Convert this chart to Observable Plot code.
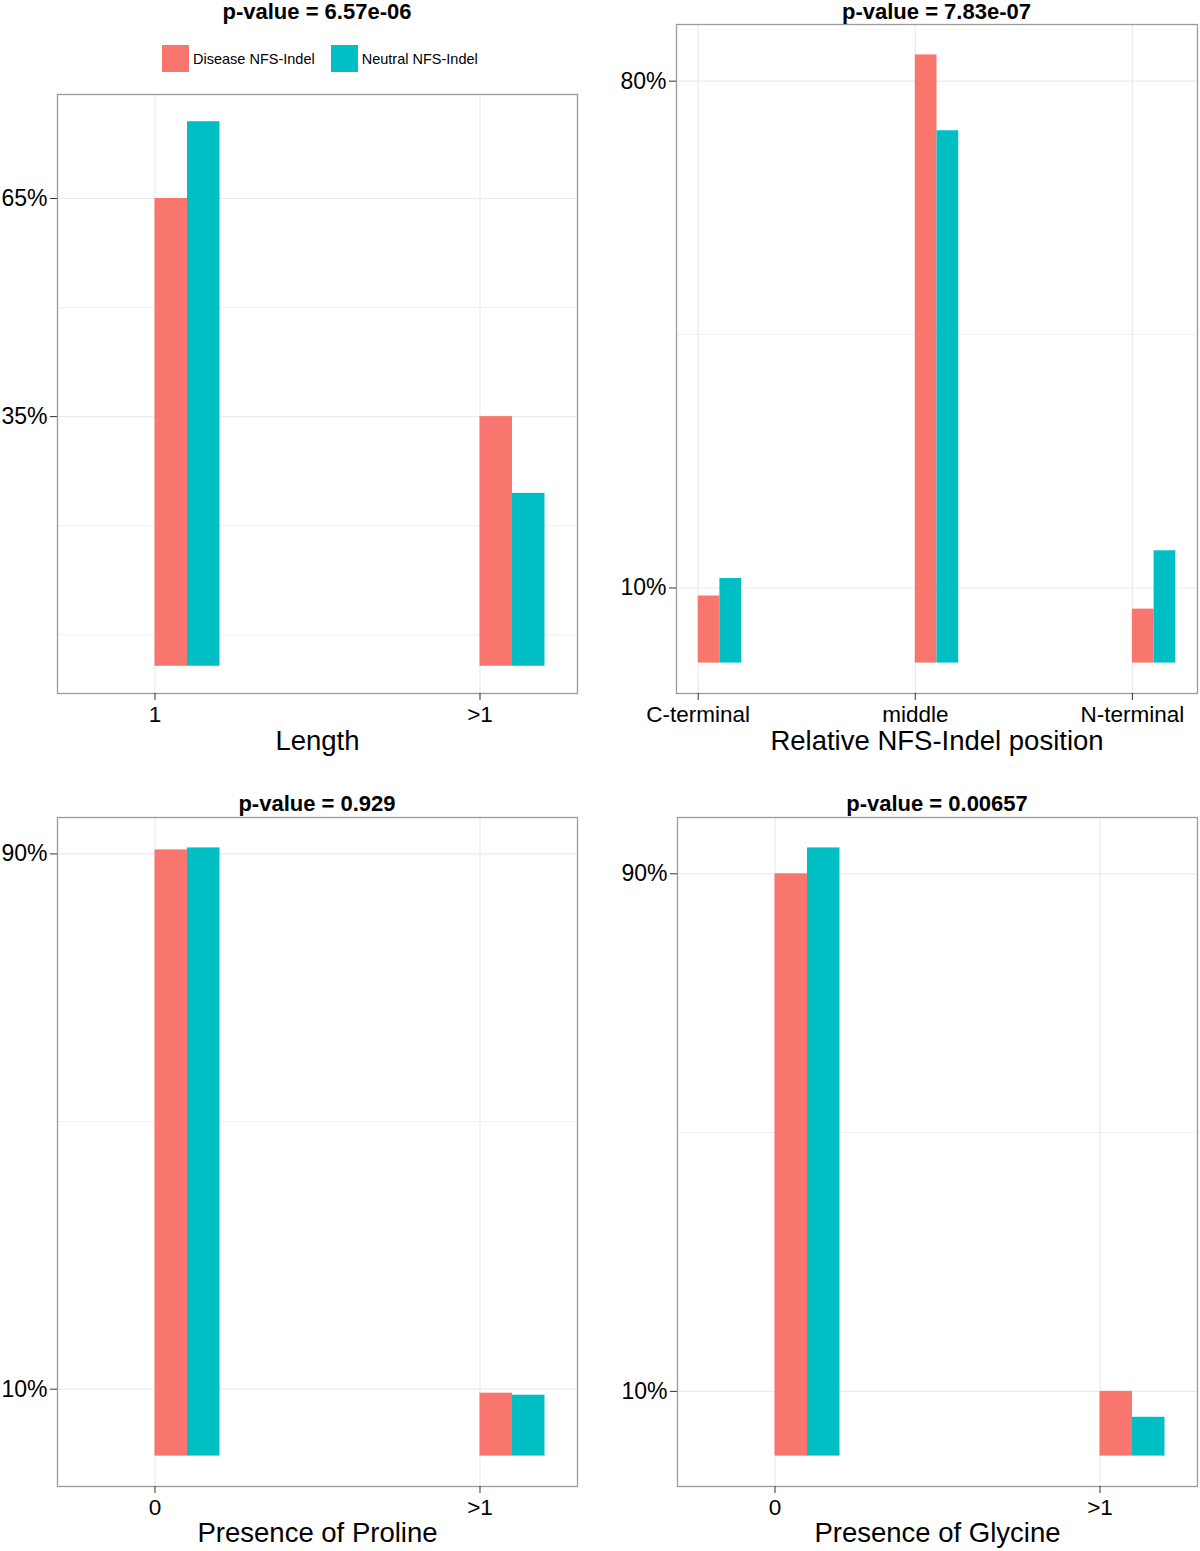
<!DOCTYPE html>
<html>
<head>
<meta charset="utf-8">
<script src="https://cdn.jsdelivr.net/npm/d3@7"></script>
<script src="https://cdn.jsdelivr.net/npm/@observablehq/plot@0.6"></script>
<style>
  body { margin: 0; background: #fff; }
  #root { position: relative; width: 1200px; height: 1551px; overflow: hidden;
          font-family: "Liberation Sans", Arial, Helvetica, sans-serif; color: #000; }
  .panel { position: absolute; }
  .ptitle { position: absolute; font-weight: bold; font-size: 22px; white-space: nowrap;
            transform: translate(-50%, -50%); }
  .legend { position: absolute; display: flex; align-items: center; font-size: 14.5px; white-space: nowrap; }
  .legend .sw { width: 27px; height: 27px; margin-right: 4px; }
  .legend .item { display: flex; align-items: center; margin-right: 16px; }
</style>
</head>
<body>
<div id="root"></div>
<script>
// ---------- data ----------
const seriesNames = ["Disease NFS-Indel", "Neutral NFS-Indel"];
const seriesColors = ["#F8766D", "#00BFC4"];

const lengthCategories = ["1", ">1"];
const lengthDisease = [65.2, 34.8];
const lengthNeutral = [75.9, 24.1];
const lengthTicks = [34.8, 65.2];
const lengthTickLabels = ["35%", "65%"];
const lengthPValue = "p-value = 6.57e-06";
const lengthAxisTitle = "Length";

const positionCategories = ["C-terminal", "middle", "N-terminal"];
const positionDisease = [9.2, 83.4, 7.4];
const positionNeutral = [11.6, 73.0, 15.4];
const positionTicks = [10.3, 79.8];
const positionTickLabels = ["10%", "80%"];
const positionPValue = "p-value = 7.83e-07";
const positionAxisTitle = "Relative NFS-Indel position";

const prolineCategories = ["0", ">1"];
const prolineDisease = [90.6, 9.4];
const prolineNeutral = [90.9, 9.1];
const prolineTicks = [10, 90];
const prolineTickLabels = ["10%", "90%"];
const prolinePValue = "p-value = 0.929";
const prolineAxisTitle = "Presence of Proline";

const glycineCategories = ["0", ">1"];
const glycineDisease = [90.0, 10.0];
const glycineNeutral = [94.0, 6.0];
const glycineTicks = [10, 90];
const glycineTickLabels = ["10%", "90%"];
const glycinePValue = "p-value = 0.00657";
const glycineAxisTitle = "Presence of Glycine";

// ---------- helpers ----------
function minorBreaks(ticks, lim) {
  let b = [...ticks].sort((a, c) => a - c);
  const bd = b[1] - b[0];
  if (lim[0] < b[0]) b = [b[0] - bd, ...b];
  if (lim[1] > b[b.length - 1]) b = [...b, b[b.length - 1] + bd];
  const out = [];
  for (let k = 0; k < b.length - 1; k++) { out.push(b[k]); out.push((b[k] + b[k + 1]) / 2); }
  out.push(b[b.length - 1]);
  return out.filter(v => v >= lim[0] && v <= lim[1] && !ticks.includes(v));
}

const root = document.getElementById("root");

function panel(cfg) {
  const { cats, disease, neutral, ticks, tickLabels, pvalue, axisTitle,
          left, top, width, height, mL, mR, mT, mB, leftPad } = cfg;
  const rows = cats.flatMap((c, i) => [
    { i, s: 0, series: seriesNames[0], value: disease[i] },
    { i, s: 1, series: seriesNames[1], value: neutral[i] }
  ]);
  const maxV = d3.max(rows, d => d.value);
  const yDomain = [-0.05 * maxV, 1.05 * maxV];
  const labelMap = new Map(ticks.map((t, k) => [t, tickLabels[k]]));
  const idx = cats.map((c, i) => i);
  const chart = Plot.plot({
    width, height,
    marginLeft: mL, marginRight: mR, marginTop: mT, marginBottom: mB,
    style: { fontFamily: '"Liberation Sans", Arial, Helvetica, sans-serif', color: "#000", background: "transparent", overflow: "visible" },
    x: { type: "linear", domain: [-leftPad, cats.length - 1 + 0.3], axis: null },
    y: { type: "linear", domain: yDomain, axis: null },
    color: { domain: seriesNames, range: seriesColors },
    marks: [
      Plot.gridY(minorBreaks(ticks, yDomain), { stroke: "#ebebeb", strokeOpacity: 1, strokeWidth: 0.7 }),
      Plot.gridY(ticks, { stroke: "#ebebeb", strokeOpacity: 1, strokeWidth: 1.2 }),
      Plot.gridX(idx, { stroke: "#ebebeb", strokeOpacity: 1, strokeWidth: 1.2 }),
      Plot.rectY(rows, {
        x1: d => d.i + d.s * 0.1,
        x2: d => d.i + (d.s + 1) * 0.1,
        y1: 0, y2: "value", fill: "series", inset: 0
      }),
      Plot.frame({ stroke: "#9b9b9b", strokeWidth: 1.3 }),
      Plot.axisY(ticks, { tickSize: 7, tickPadding: 3, tickFormat: d => labelMap.get(d),
                          fontSize: 23, label: null, stroke: "#333" }),
      Plot.axisX(idx, { tickSize: 7, tickPadding: 6, tickFormat: i => cats[i],
                        fontSize: 22.5, label: null, stroke: "#333" }),
      Plot.text([axisTitle], { frameAnchor: "bottom", dy: cfg.titleDy, fontSize: 27.5, lineAnchor: "middle", fill: "#000" })
    ]
  });
  const wrap = document.createElement("div");
  wrap.className = "panel";
  wrap.style.left = left + "px";
  wrap.style.top = top + "px";
  wrap.appendChild(chart);
  root.appendChild(wrap);

  const t = document.createElement("div");
  t.className = "ptitle";
  t.textContent = pvalue;
  t.style.left = (left + mL + (width - mL - mR) / 2) + "px";
  t.style.top = cfg.titleY + "px";
  root.appendChild(t);
}

panel({ cats: lengthCategories, disease: lengthDisease, neutral: lengthNeutral,
        ticks: lengthTicks, tickLabels: lengthTickLabels, pvalue: lengthPValue, axisTitle: lengthAxisTitle,
        left: 0, top: 0, width: 600, height: 775, mL: 57, mR: 23, mT: 94, mB: 82, leftPad: 0.3,
        titleY: 12, titleDy: 48 });
panel({ cats: positionCategories, disease: positionDisease, neutral: positionNeutral,
        ticks: positionTicks, tickLabels: positionTickLabels, pvalue: positionPValue, axisTitle: positionAxisTitle,
        left: 600, top: 0, width: 600, height: 775, mL: 76, mR: 3, mT: 24, mB: 82, leftPad: 0.1,
        titleY: 12, titleDy: 48 });
panel({ cats: prolineCategories, disease: prolineDisease, neutral: prolineNeutral,
        ticks: prolineTicks, tickLabels: prolineTickLabels, pvalue: prolinePValue, axisTitle: prolineAxisTitle,
        left: 0, top: 776, width: 600, height: 775, mL: 57, mR: 23, mT: 41, mB: 65, leftPad: 0.3,
        titleY: 804, titleDy: 47 });
panel({ cats: glycineCategories, disease: glycineDisease, neutral: glycineNeutral,
        ticks: glycineTicks, tickLabels: glycineTickLabels, pvalue: glycinePValue, axisTitle: glycineAxisTitle,
        left: 600, top: 776, width: 600, height: 775, mL: 77, mR: 3, mT: 41, mB: 65, leftPad: 0.3,
        titleY: 804, titleDy: 47 });

// legend
const lg = document.createElement("div");
lg.className = "legend";
lg.style.left = "162px";
lg.style.top = "45px";
seriesNames.forEach((name, k) => {
  const item = document.createElement("div");
  item.className = "item";
  const sw = document.createElement("div");
  sw.className = "sw";
  sw.style.background = seriesColors[k];
  const tx = document.createElement("span");
  tx.textContent = name;
  item.appendChild(sw);
  item.appendChild(tx);
  lg.appendChild(item);
});
root.appendChild(lg);
</script>
</body>
</html>
